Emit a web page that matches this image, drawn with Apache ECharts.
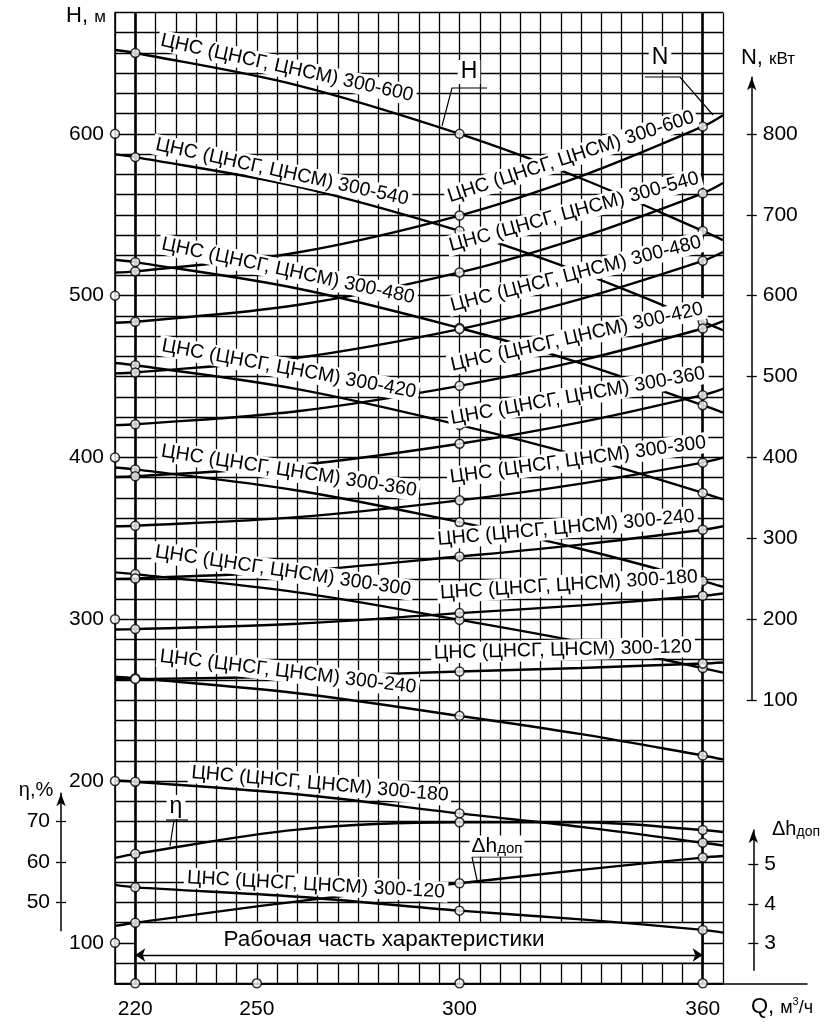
<!DOCTYPE html>
<html>
<head>
<meta charset="utf-8">
<title>ЦНС 300</title>
<script src="https://cdn.jsdelivr.net/npm/echarts@6.0.0/dist/echarts.min.js"></script>
<style>
html, body { margin: 0; padding: 0; background: #fff; }
#chart { width: 825px; height: 1024px; }
</style>
</head>
<body>
<div id="chart"></div>
<script>
// подача Q, м3/ч - точки, по которым сняты кривые с графика
var qPoints = [215, 220, 260, 300, 330, 360, 365];
var circleQ = [220, 300, 360];
var workRange = [220, 360];
var models = ['300-600', '300-540', '300-480', '300-420', '300-360', '300-300', '300-240', '300-180', '300-120'];

// напор H, м
var H_600 = [651.8, 650, 630, 600, 572.4, 540, 534.3];
var H_540 = [587.3, 585.6, 567.4, 540, 514.2, 484, 478.6];
var H_480 = [522.2, 520.7, 504.4, 480, 458.1, 432.3, 427.7];
var H_420 = [458.4, 457, 442.2, 420, 400.7, 378.1, 374.1];
var H_360 = [393.8, 392.6, 379.6, 360, 343.4, 323.6, 320.1];
var H_300 = [329, 327.9, 316.6, 299.6, 285.9, 269.8, 267];
var H_240 = [264.5, 263.6, 254.3, 240.3, 229, 215.8, 213.4];
var H_180 = [200.3, 199.6, 191.8, 180, 171.7, 161.9, 160.2];
var H_120 = [135.8, 134.3, 128.5, 119.9, 114.5, 108, 106.3];

// мощность N, кВт
var N_600 = [628.6, 630, 653.4, 699, 747.7, 809, 823];
var N_540 = [566.5, 567.7, 588.4, 628.7, 672.1, 726.5, 739.2];
var N_480 = [503.9, 505, 523.2, 558.7, 596.1, 643, 654];
var N_420 = [440, 441, 457.1, 488.5, 520, 559.4, 568.6];
var N_360 = [375.9, 376.7, 390.4, 417, 443.6, 477, 484.8];
var N_300 = [315, 315.6, 326.2, 347, 367.7, 393.6, 399.7];
var N_240 = [249.9, 250.4, 259.6, 277.6, 292.3, 310.6, 314.9];
var N_180 = [187.4, 187.8, 194.5, 207.6, 217.1, 229, 231.8];
var N_120 = [125.8, 126, 129.2, 135.4, 139.8, 145.3, 146.6];

// кпд, % и допускаемый кавитационный запас, м
var ETA = [61, 62, 68, 69.8, 69.8, 67.9, 67.4];
var DH = [3.44, 3.52, 4.06, 4.52, 4.86, 5.17, 5.21];

// подписи шкал
var xTicks = [220, 250, 300, 360];
var hTicks = [100, 200, 300, 400, 500, 600];
var nTicks = [100, 200, 300, 400, 500, 600, 700, 800];
var etaTicks = [50, 60, 70];
var dhTicks = [3, 4, 5];

var hCurves = [H_600, H_540, H_480, H_420, H_360, H_300, H_240, H_180, H_120];
var nCurves = [N_600, N_540, N_480, N_420, N_360, N_300, N_240, N_180, N_120];

// где стоят надписи марок (центр, px и угол, град)
var hLabelPos = [[287, 68, -12.4], [282, 172, -12.3], [288, 271, -12.1], [289, 369, -10.4], [289, 471, -8.8],
                 [283, 571, -8.5], [288, 672, -6.9], [320, 784, -5.1], [316, 885, -3.2]];
var nLabelPos = [[571, 157, 18.1], [574, 212, 15.3], [576, 274, 14.4], [577, 337, 12.7], [578, 396, 10.1],
                 [578, 460, 7.8], [566, 528, 5.2], [569, 585, 3.6], [563, 650, 1.4]];

var FONT = '"Liberation Sans", Arial, sans-serif';
var chart = echarts.init(document.getElementById('chart'));

function onCurve(vals) {
    return qPoints.map(function (q, i) { return [q, vals[i]]; });
}
function atCircles(vals) {
    var out = [];
    qPoints.forEach(function (q, i) {
        if (circleQ.indexOf(q) >= 0) out.push([q, vals[i]]);
    });
    return out;
}
function curve(name, vals, yIdx) {
    return {
        name: name, type: 'line', xAxisIndex: 0, yAxisIndex: yIdx,
        data: onCurve(vals), smooth: 0.35,
        showSymbol: false, silent: true, z: 5,
        lineStyle: { color: '#000', width: 2.4 }
    };
}
function dots(data, yIdx) {
    return {
        type: 'scatter', xAxisIndex: 0, yAxisIndex: yIdx, data: data,
        symbol: 'circle', symbolSize: 9, silent: true, z: 6,
        itemStyle: { color: '#fff', borderColor: '#000', borderWidth: 1.5 }
    };
}
function txt(x, y, text, size, rot, bg) {
    return {
        type: 'text', x: x, y: y, rotation: (rot || 0) * Math.PI / 180, z: 10, silent: true,
        style: {
            text: text, font: size + 'px ' + FONT, fill: '#000',
            align: 'center', verticalAlign: 'middle',
            textAlign: 'center', textVerticalAlign: 'middle',
            backgroundColor: bg ? '#fff' : null, padding: bg ? [1, 3, 0, 3] : 0
        }
    };
}
function leader(points) {
    return { type: 'polyline', z: 9, silent: true, shape: { points: points },
             style: { stroke: '#000', lineWidth: 1.2, fill: null } };
}

var series = [];
// рабочая часть характеристики
series.push({
    type: 'line', data: [], xAxisIndex: 0, yAxisIndex: 0, z: 3, silent: true,
    markArea: {
        silent: true,
        itemStyle: { color: '#fff', borderColor: '#000', borderWidth: 1.3 },
        data: [[{ coord: [workRange[0], 87.5] }, { coord: [workRange[1], 112.5] }]]
    }
});
series.push({
    type: 'line', data: [], xAxisIndex: 0, yAxisIndex: 0, z: 4, silent: true,
    markLine: {
        silent: true, symbol: 'none', animation: false,
        label: { show: false },
        lineStyle: { color: '#000', width: 2.6, type: 'solid' },
        data: [
            { xAxis: workRange[0] },
            { xAxis: workRange[1] },
            [{ coord: [workRange[0], 92.5], symbol: 'arrow', symbolSize: 10, lineStyle: { width: 1.3 } },
             { coord: [workRange[1], 92.5], symbol: 'arrow', symbolSize: 10 }]
        ]
    }
});

var hDots = [], nDots = [];
models.forEach(function (m, i) {
    series.push(curve('H ' + m, hCurves[i], 0));
    series.push(curve('N ' + m, nCurves[i], 1));
    hDots = hDots.concat(atCircles(hCurves[i]));
    nDots = nDots.concat(atCircles(nCurves[i]));
});
series.push(curve('η', ETA, 2));
series.push(curve('Δh доп', DH, 3));
series.push(dots(hDots, 0));
series.push(dots(nDots, 1));
series.push(dots(atCircles(ETA), 2));
series.push(dots(atCircles(DH), 3));

// кружки на осях
var axisDots = hTicks.map(function (h) { return [215, h]; })
    .concat(xTicks.map(function (q) { return [q, 75]; }));
var ad = dots(axisDots, 0);
ad.clip = false;
series.push(ad);

// надписи
var graphic = [];
models.forEach(function (m, i) {
    var hp = hLabelPos[i], np = nLabelPos[i];
    graphic.push(txt(hp[0], hp[1], 'ЦНС (ЦНСГ, ЦНСМ) ' + m, 19.5, hp[2], true));
    graphic.push(txt(np[0], np[1], 'ЦНС (ЦНСГ, ЦНСМ) ' + m, 19.5, np[2], true));
});
graphic.push(txt(384, 940, 'Рабочая часть характеристики', 22.5, 0, false));

graphic.push(leader([[487, 88], [452, 88], [442, 126]]));
graphic.push(txt(469, 72, 'H', 23, 0, true));
graphic.push(leader([[645, 77], [680, 77], [713, 115]]));
graphic.push(txt(660, 58, 'N', 23, 0, true));
graphic.push(leader([[166, 820], [188, 820]]));
graphic.push(leader([[174, 820], [170, 846]]));
graphic.push(txt(176, 807, 'η', 23, 0, true));
graphic.push(leader([[472, 857], [523, 857]]));
graphic.push(leader([[472, 857], [477, 880]]));
graphic.push({
    type: 'text', x: 497, y: 846, z: 10, silent: true,
    style: {
        text: '{a|Δh}{b|доп}', align: 'center', verticalAlign: 'middle',
        textAlign: 'center', textVerticalAlign: 'middle', backgroundColor: '#fff', padding: [0, 2],
        rich: { a: { font: '21px ' + FONT, fill: '#000' }, b: { font: '15px ' + FONT, fill: '#000', padding: [6, 0, 0, 0] } }
    }
});

// заголовки осей
function richTitle(x, y, text, rich) {
    return {
        type: 'text', x: x, y: y, z: 10, silent: true,
        style: { text: text, align: 'center', verticalAlign: 'middle',
                 textAlign: 'center', textVerticalAlign: 'middle', rich: rich }
    };
}
var big = { font: '22px ' + FONT, fill: '#000' };
var small = { font: '17px ' + FONT, fill: '#000', padding: [3, 0, 0, 0] };
graphic.push(richTitle(86, 16, '{a|H, }{b|м}', { a: big, b: small }));
graphic.push(richTitle(768, 58, '{a|N, }{b|кВт}', { a: big, b: small }));
graphic.push(richTitle(36, 790, '{a|η,%}', { a: { font: '20px ' + FONT, fill: '#000' } }));
graphic.push(richTitle(796, 829, '{a|Δh}{b|доп}', { a: { font: '20px ' + FONT, fill: '#000' },
    b: { font: '14px ' + FONT, fill: '#000', padding: [6, 0, 0, 0] } }));
graphic.push(richTitle(782, 1007, '{a|Q, }{b|м}{c|3}{b|/ч}', { a: big, b: { font: '18px ' + FONT, fill: '#000', padding: [2, 0, 0, 0] },
    c: { font: '11px ' + FONT, fill: '#000', padding: [0, 0, 10, 0] } }));

function hiddenX(g) { return { type: 'value', gridIndex: g, min: 0, max: 1, show: false }; }
function sideAxis(g, pos, min, max, ticks, withLabels) {
    return {
        type: 'value', gridIndex: g, position: pos, min: min, max: max,
        axisLine: { show: withLabels, onZero: false, symbol: ['none', 'arrow'], symbolSize: [7, 13], lineStyle: { color: '#000', width: 1.5 } },
        axisTick: { show: true, inside: !withLabels, length: 5, customValues: ticks, lineStyle: { color: '#000', width: 1.3 } },
        axisLabel: { show: withLabels, customValues: ticks, color: '#000', fontSize: 21, fontFamily: FONT, margin: 11 },
        splitLine: { show: false }
    };
}

var option = {
    animation: false,
    textStyle: { fontFamily: FONT },
    grid: [
        { left: 115, right: 102, top: 12.5, bottom: 40.7 },
        { left: 700, right: 73.3, top: 77.3, bottom: 323.9 },
        { left: 61, width: 20, top: 793.2, bottom: 93.3 },
        { left: 700, right: 71.7, top: 829.9, bottom: 53.8 },
        { left: 115, right: 18, top: 12.5, bottom: 40.7 }
    ],
    xAxis: [
        {
            type: 'value', gridIndex: 0, min: 215, max: 365, interval: 5,
            axisLine: { onZero: false, lineStyle: { color: '#000', width: 1.5 } },
            axisTick: { show: false },
            axisLabel: {
                color: '#000', fontSize: 21, fontFamily: FONT, margin: 15,
                formatter: function (v) { return xTicks.indexOf(Math.round(v)) >= 0 ? String(Math.round(v)) : ''; }
            },
            splitLine: { show: true, lineStyle: { color: '#000', width: 1.3 } }
        },
        hiddenX(1), hiddenX(2), hiddenX(3),
        {
            type: 'value', gridIndex: 4, min: 0, max: 1,
            axisLine: { onZero: false, lineStyle: { color: '#000', width: 1.5 } },
            axisTick: { show: false }, axisLabel: { show: false }, splitLine: { show: false }
        }
    ],
    yAxis: [
        {
            type: 'value', gridIndex: 0, min: 75, max: 675, interval: 12.5,
            axisLine: { show: true, onZero: false, lineStyle: { color: '#000', width: 1.5 } },
            axisTick: { show: false },
            axisLabel: {
                color: '#000', fontSize: 21, fontFamily: FONT, margin: 11,
                formatter: function (v) { return hTicks.indexOf(Math.round(v)) >= 0 && Math.abs(v - Math.round(v)) < 1e-6 ? String(Math.round(v)) : ''; }
            },
            splitLine: { show: true, lineStyle: { color: '#000', width: 1.3 } }
        },
        { type: 'value', gridIndex: 0, min: -250, max: 950, show: false },
        { type: 'value', gridIndex: 0, min: 30, max: 270, show: false },
        { type: 'value', gridIndex: 0, min: 1.987, max: 26.567, show: false },
        sideAxis(1, 'right', 100, 870, nTicks, true),
        sideAxis(1, 'right', 100, 870, nTicks, false),
        sideAxis(2, 'left', 43, 77, etaTicks, true),
        sideAxis(2, 'left', 43, 77, etaTicks, false),
        sideAxis(3, 'right', 2.32, 5.87, dhTicks, true),
        sideAxis(3, 'right', 2.32, 5.87, dhTicks, false),
        { type: 'value', gridIndex: 4, min: 0, max: 1, show: false }
    ],
    series: series,
    graphic: graphic
};

chart.setOption(option);
</script>
</body>
</html>
